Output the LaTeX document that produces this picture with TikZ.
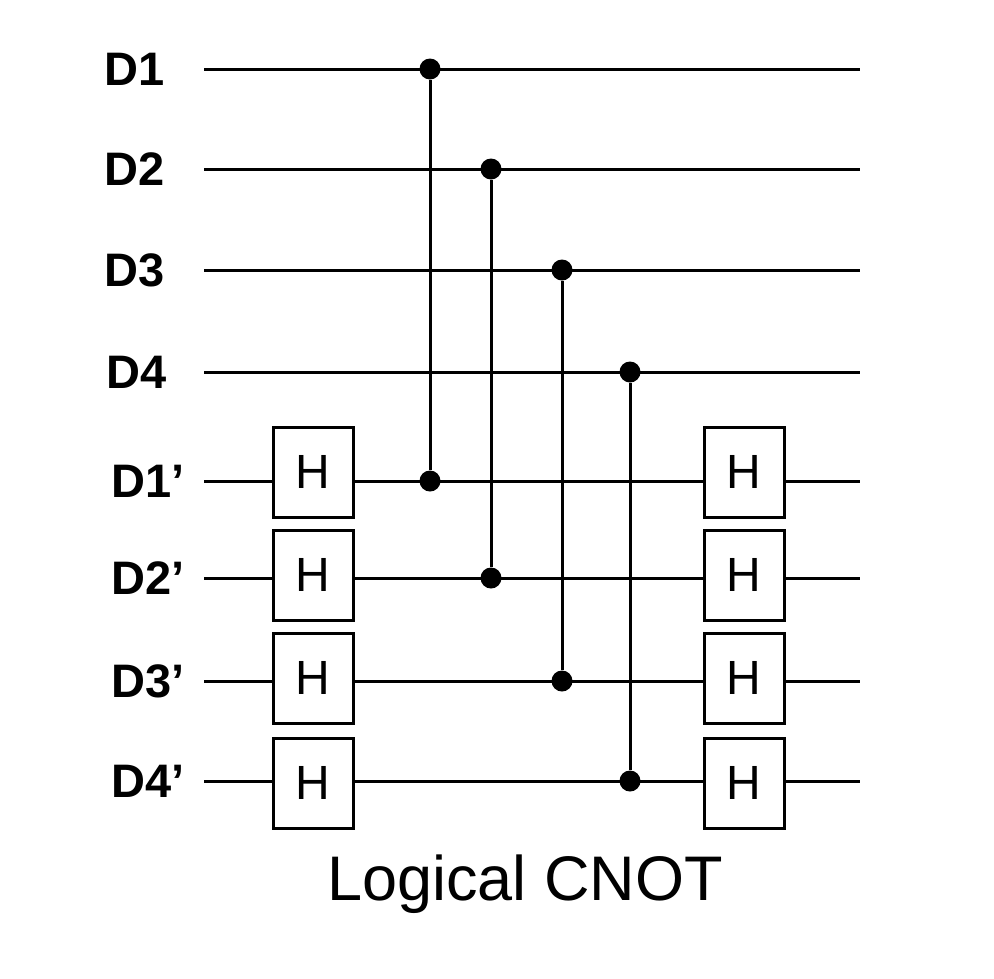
\documentclass[tikz,border=0pt]{standalone}
\usepackage{fontspec}
\setmainfont{Liberation Sans}
\begin{document}
\begin{tikzpicture}[x=1pt,y=-1pt,
  wire/.style={line width=3pt},
  gatebox/.style={draw,line width=3pt,fill=white,minimum width=80pt,minimum height=90pt,inner sep=0pt,font=\fontsize{48}{48}\selectfont},
  lbl/.style={anchor=east,font=\fontsize{47}{47}\selectfont\bfseries},
  dot/.style={circle,fill=black,inner sep=0pt,minimum size=21pt}]
\useasboundingbox (0,0) rectangle (994,978);
% labels
\node[lbl] (l1) at (168,69) {D1};
\node[lbl] (l2) at (168,169) {D2};
\node[lbl] (l3) at (168,270) {D3};
\node[lbl] (l4) at (170,372) {D4};
\node[lbl] (l5) at (188,481) {D1’};
\node[lbl] (l6) at (188,578) {D2’};
\node[lbl] (l7) at (188,681) {D3’};
\node[lbl] (l8) at (188,781) {D4’};
% wire ends
\foreach \i/\y in {1/69,2/169,3/270,4/372,5/481,6/578,7/681,8/781}{
  \coordinate (s\i) at (204,\y); \coordinate (e\i) at (860,\y);
  \draw[wire] (s\i) -- (e\i);
}
% controls
\foreach \x/\a/\b in {430/1/5,491/2/6,562/3/7,630/4/8}{
  \node[dot] (ca\a) at (\x,0|-s\a) {};
  \node[dot] (cb\b) at (\x,0|-s\b) {};
  \draw[wire] (ca\a) -- (cb\b);
}
% H gates
\foreach \i/\y in {5/472,6/575,7/678,8/783}{
  \node[gatebox] (hl\i) at (313,\y) {H};
  \node[gatebox] (hr\i) at (744,\y) {H};
}
\node[font=\fontsize{63}{63}\selectfont] (title) at (525,884) {Logical CNOT};
\end{tikzpicture}
\end{document}
